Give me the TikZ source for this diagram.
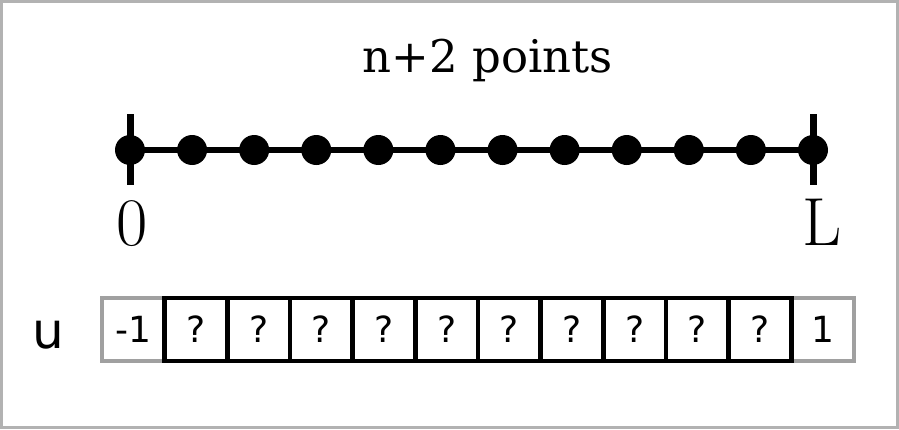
\documentclass[tikz,border=0pt]{standalone}
\usepackage{fontspec}
\newfontfamily\serifdv{DejaVu Serif}
\newfontfamily\sansdv{DejaVu Sans}
\usetikzlibrary{positioning}

\definecolor{framegray}{RGB}{178,178,178}
\definecolor{cellgray}{RGB}{160,160,160}

\tikzset{
  gridpoint/.style={circle, fill=black, inner sep=0pt, minimum size=30pt},
  cellbox/.style={draw=black, line width=4.5pt, minimum width=62.67pt,
    minimum height=63pt, inner sep=0pt, font=\sansdv\fontsize{36}{40}\selectfont},
  bndbox/.style={cellbox, draw=cellgray, line width=4pt},
}

\begin{document}
\begin{tikzpicture}[x=1pt, y=-1pt]
\useasboundingbox (0,0) rectangle (899,429);
\draw[framegray, line width=3pt] (1.5,1.5) rectangle (897.5,427.5);

% Title
\node[anchor=base, font=\serifdv\fontsize{45}{54}\selectfont] (title) at (488,72) {n+2 points};

% Grid points on the interval [0,L]
\foreach \i in {0,...,11} \coordinate (x\i) at (130+\i*62.09,150);
\draw[line width=6pt] (x0) -- (x11);
\draw[line width=7pt] ([yshift=36pt]x0) -- ([yshift=-35pt]x0);
\draw[line width=7pt] ([yshift=36pt]x11) -- ([yshift=-35pt]x11);
\foreach \i in {0,...,11} \node[gridpoint] (p\i) at (x\i) {};

% End labels
\node[anchor=base, font=\fontsize{68}{70}\selectfont] (zero) at (132,245) {0};
\node[anchor=base, font=\fontsize{68}{70}\selectfont] (len) at (822,245) {L};

% Array u: boundary values and unknowns
\node[bndbox] (c0) at (133.33,329.5) {-1};
\node[bndbox] (c11) at (822.7,329.5) {1};
\foreach \i in {1,...,10} \node[cellbox] (c\i) at (133.33+\i*62.67,329.5) {?};

\node[anchor=base, font=\sansdv\fontsize{50}{52}\selectfont] (u) at (48,348) {u};

\end{tikzpicture}
\end{document}
